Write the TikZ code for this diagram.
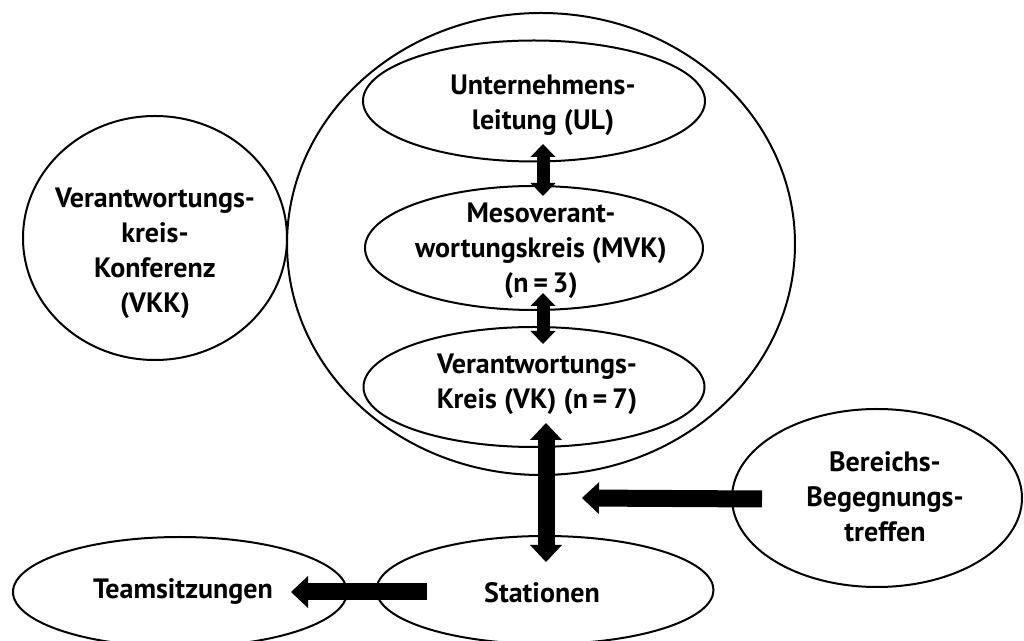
\documentclass[tikz,border=0pt]{standalone}
\usepackage{fontspec}
\setmainfont{PT Sans}
\usetikzlibrary{arrows.meta,shapes.geometric}

\tikzset{
  oval/.style={draw, line width=1pt, ellipse, inner sep=0pt},
  lbl/.style={font=\fontsize{14}{17.5}\selectfont\bfseries, align=center, inner sep=0pt},
  small tip/.tip={Triangle[length=6.5pt,width=12.5pt,line width=0pt]},
  big tip/.tip={Triangle[length=8.5pt,width=16pt,line width=0pt]},
  link/.style={line width=6.5pt, small tip-small tip},
  biglink/.style={line width=8.5pt, big tip-big tip},
  push/.style={line width=8.5pt, -big tip}
}

\begin{document}
\begin{tikzpicture}[x=0.5pt, y=-0.5pt]
  \useasboundingbox (0,0) rectangle (1024,641);

  % Outer circle round the three levels
  \node[oval, minimum width=254pt, minimum height=231pt] (outer) at (541,244) {};

  % Levels
  \node[oval, minimum width=171pt, minimum height=60.5pt] (ul) at (534,101) {};
  \node[oval, minimum width=169pt, minimum height=62pt] (mvk) at (534,248) {};
  \node[oval, minimum width=170.5pt, minimum height=60pt] (vk) at (534,387) {};

  % Side circles
  \node[oval, minimum width=132pt, minimum height=122pt] (vkk) at (155,238) {};
  \node[oval, minimum width=145pt, minimum height=89pt] (ber) at (877,498) {};
  \node[oval, minimum width=168.5pt, minimum height=54pt] (sta) at (545,590) {};
  \node[oval, minimum width=167pt, minimum height=55pt] (team) at (180,592) {};

  % Texts
  \node[lbl] (ultext) at (543,105) {Unternehmens-\\leitung (UL)};
  \node[lbl] (mvktext) at (541,251) {Mesoverant-\\wortungskreis (MVK)\\(n\,=\,3)};
  \node[lbl] (vktext) at (537,384) {Verantwortungs-\\Kreis (VK) (n\,=\,7)};
  \node[lbl] (vkktext) at (155,253) {Verantwortungs-\\kreis-\\Konferenz\\(VKK)};
  \node[lbl] (bertext) at (885,497) {Bereichs-\\Begegnungs-\\treffen};
  \node[lbl] (statext) at (542,593) {Stationen};
  \node[lbl] (teamtext) at (183,592) {Teamsitzungen};

  % Arrows
  \draw[link] ([shift={(9,-18.5)}]ul.south) -- ([shift={(9,11)}]mvk.north);
  \draw[link] ([shift={(9,-18)}]mvk.south) -- ([shift={(9,18)}]vk.north);
  \draw[biglink] ([shift={(12,-25)}]vk.south) -- ([shift={(1,27)}]sta.north);
  \coordinate (hit) at ([shift={(37,-37)}]sta.north);
  \draw[push] ([shift={(31,1)}]ber.west) -- (hit);
  \draw[push] ([shift={(51.5,2)}]sta.west) -- ([shift={(-57,0)}]team.east);
\end{tikzpicture}
\end{document}
